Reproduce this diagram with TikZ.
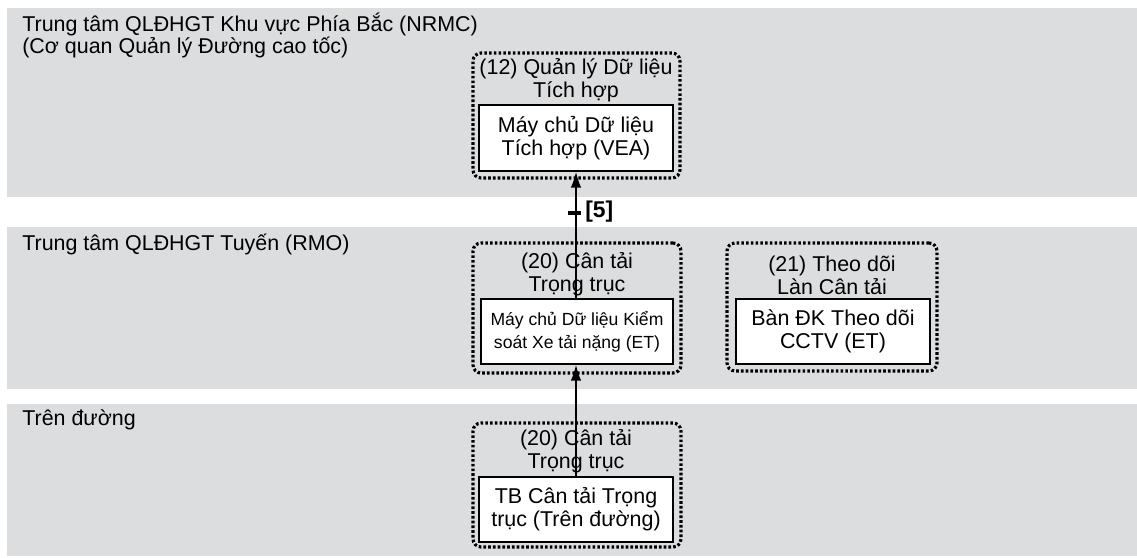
\documentclass[tikz,border=0pt]{standalone}
\usepackage{fontspec}
\setmainfont{Liberation Sans}
\usetikzlibrary{arrows.meta}
\definecolor{bandgray}{RGB}{220,221,223}
\begin{document}
\begin{tikzpicture}[x=0.02cm,y=-0.02cm,
    band/.style={fill=bandgray,draw=none},
    bandtitle/.style={anchor=north west,align=left,inner sep=0pt,font=\fontsize{12.2}{12.5}\selectfont},
    grp/.style={draw,rounded corners=0.16cm,line width=1.8pt,dash pattern=on 1.5pt off 1.2pt},
    grptitle/.style={align=center,inner sep=0pt,font=\fontsize{12.2}{13}\selectfont},
    srv/.style={draw,fill=white,line width=1pt,align=center,inner sep=0pt,minimum height=1.3cm,font=\fontsize{12.2}{13}\selectfont},
    link/.style={line width=0.8pt,-{Latex[length=9pt,width=6pt]}}]
    \useasboundingbox (0,0) rectangle (1137,558);
    % bands
    \fill[band] (7,8) rectangle (1137,197);
    \fill[band] (7,227) rectangle (1137,389);
    \fill[band] (7,404) rectangle (1137,556);
    \node[bandtitle] (nrmc) at (22,13) {Trung tâm QLĐHGT Khu vực Phía Bắc (NRMC)\\(Cơ quan Quản lý Đường cao tốc)};
    \node[bandtitle] (rmo) at (22,234) {Trung tâm QLĐHGT Tuyến (RMO)};
    \node[bandtitle] (road) at (22,409) {Trên đường};
    % groups
    \node[grp,minimum width=4.14cm,minimum height=2.5cm] (g12) at (576.5,115.5) {};
    \node[grp,minimum width=4.16cm,minimum height=2.6cm] (g20a) at (577,308) {};
    \node[grp,minimum width=4.2cm,minimum height=2.56cm] (g21) at (832,307) {};
    \node[grp,minimum width=4.16cm,minimum height=2.48cm] (g20b) at (577,485) {};
    \node[grptitle] (t12) at (576,80) {(12) Quản lý Dữ liệu\\Tích hợp};
    \node[grptitle] (t20a) at (577,274) {(20) Cân tải\\Trọng trục};
    \node[grptitle] (t21) at (832,275) {(21) Theo dõi\\Làn Cân tải};
    \node[grptitle] (t20b) at (576,451) {(20) Cân tải\\Trọng trục};
    % servers
    \node[srv,minimum width=3.88cm,minimum height=1.32cm] (vea) at (576,138) {Máy chủ Dữ liệu\\Tích hợp (VEA)};
    \node[srv,minimum width=3.84cm,font=\fontsize{10}{13}\selectfont] (et) at (577,331.5) {Máy chủ Dữ liệu Kiểm\\soát Xe tải nặng (ET)};
    \node[srv,minimum width=3.88cm] (cctv) at (833,331.5) {Bàn ĐK Theo dõi\\CCTV (ET)};
    \node[srv,minimum width=3.88cm] (axle) at (576,509.5) {TB Cân tải Trọng\\trục (Trên đường)};
    % links
    \draw[link] (axle.north) -- (axle.north |- et.south);
    \draw[link] (axle.north |- et.north) -- (axle.north |- vea.south);
    \coordinate (l5) at (576,213);
    \draw[line width=2.6pt] ([xshift=-0.16cm]l5) -- ([xshift=0.1cm]l5);
    \node[anchor=west,inner sep=0pt,font=\fontsize{13}{13}\selectfont\bfseries] (lbl5) at (585,212) {[5]};
\end{tikzpicture}
\end{document}
